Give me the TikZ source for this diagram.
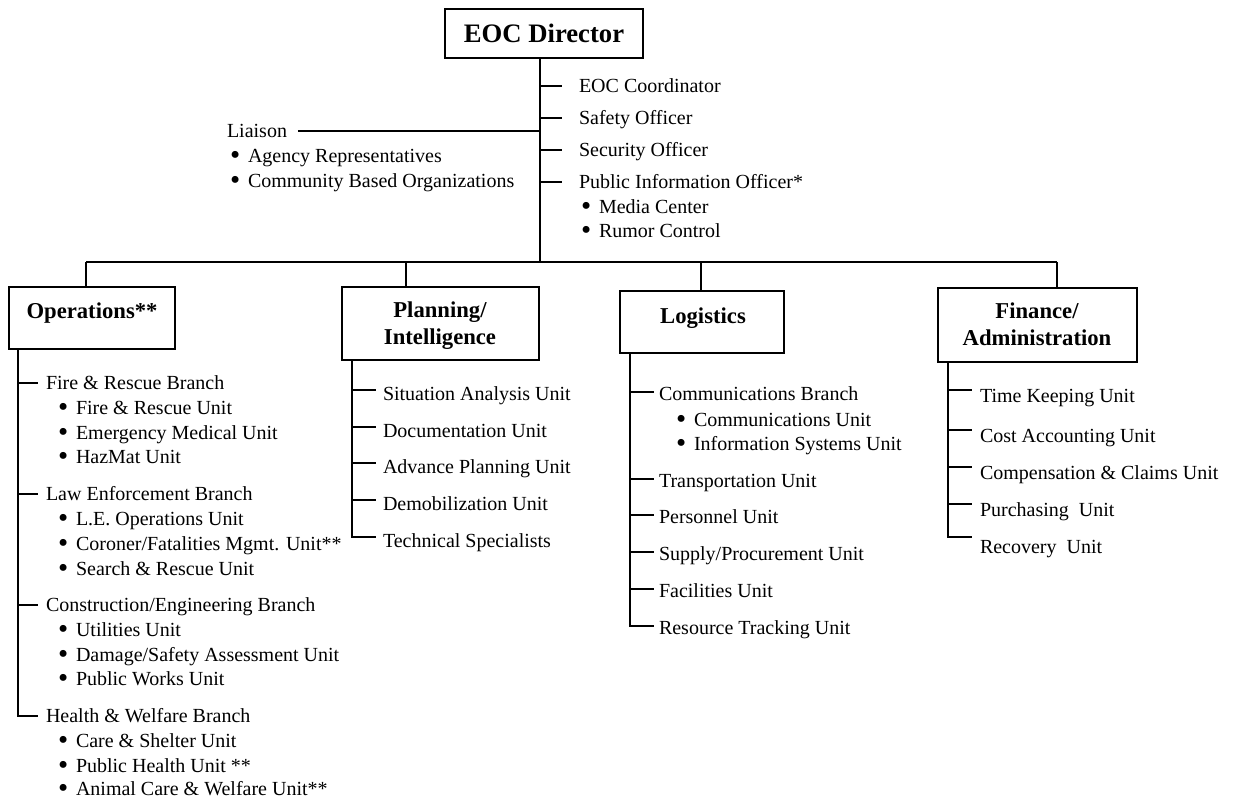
\documentclass[tikz,border=0pt]{standalone}
\usepackage{fontspec}
\setmainfont{Liberation Serif}
\newcommand\myitem[1]{\makebox[13.5pt][l]{\smash{\raisebox{-0.09em}{\scalebox{1.45}{\textbullet}}}}#1}
\begin{document}
\begin{tikzpicture}[x=0.75pt,y=-0.75pt,line width=1.5pt,
  every node/.style={inner sep=0pt,font=\fontsize{15}{18}\selectfont},
  lbl/.style={anchor=west,text height=9.9pt,text depth=0pt},
  head/.style={font=\fontsize{17}{20}\selectfont\bfseries,text height=11.2pt,text depth=0pt},
  box/.style={draw,line width=1.5pt,minimum width=#1*0.75pt},
  link/.style={line width=1.5pt}]
\useasboundingbox (0,0) rectangle (1234,802);

% ---------- Director ----------
\node[box=198,minimum height=49*0.75pt] (dir) at (544,33.5) {};
\node[font=\fontsize{20}{24}\selectfont\bfseries,text height=13.2pt,text depth=0pt] (dirt) at (544,34) {EOC Director};
\coordinate (trunk) at (540,58);
\coordinate (bus) at (540,262);
\draw[link] (trunk) -- (bus);

% staff
\node[lbl] (coord) at (578,86) {EOC Coordinator};
\node[lbl] (safe) at (578,118) {Safety Officer};
\node[lbl] (sec) at (578,150) {Security Officer};
\node[lbl] (pio) at (578,182) {Public Information Officer*};
\node[lbl] (pio1) at (580,207) {\myitem{Media Center}};
\node[lbl] (pio2) at (580,231) {\myitem{Rumor Control}};
\foreach \n in {coord,safe,sec,pio}{
  \draw[link] (trunk |- \n.west) -- ([xshift=-12pt]\n.west);
}
\node[lbl] (liaison) at (226,131) {Liaison};
\node[lbl] (lia1) at (229,156) {\myitem{Agency Representatives}};
\node[lbl] (lia2) at (229,181) {\myitem{Community Based Organizations}};
\draw[link] ([xshift=7.5pt]liaison.east) -- (trunk |- liaison.east);

% ---------- Section boxes ----------
\node[box=166,minimum height=62*0.75pt] (ops) at (92,318) {};
\node[head] (opst) at (92,311) {Operations**};
\node[box=197,minimum height=73*0.75pt] (plan) at (440.5,323.5) {};
\node[head] (plant1) at (440,310) {Planning/};
\node[head] (plant2) at (440,337) {Intelligence};
\node[box=164,minimum height=62*0.75pt] (log) at (702,322) {};
\node[head] (logt) at (703,316) {Logistics};
\node[box=199,minimum height=74*0.75pt] (fin) at (1037.5,325) {};
\node[head] (fint1) at (1037,311) {Finance/};
\node[head] (fint2) at (1037,338) {Administration};

\coordinate (busL) at (86,262);
\coordinate (busR) at (1057,262);
\draw[link] (busL) -- (busR);
\coordinate (dplan) at (406,262);
\coordinate (dlog) at (701,262);
\draw[link] (busL) -- (busL |- ops.north);
\draw[link] (dplan) -- (dplan |- plan.north);
\draw[link] (dlog) -- (dlog |- log.north);
\draw[link] (busR) -- (busR |- fin.north);

% ---------- Operations ----------
\coordinate (opsx) at (18,0);
\node[lbl] (o1) at (45,383) {Fire \& Rescue Branch};
\node[lbl] (o11) at (57,408) {\myitem{Fire \& Rescue Unit}};
\node[lbl] (o12) at (57,433) {\myitem{Emergency Medical Unit}};
\node[lbl] (o13) at (57,457) {\myitem{HazMat Unit}};
\node[lbl] (o2) at (45,494) {Law Enforcement Branch};
\node[lbl] (o21) at (57,519) {\myitem{L.E. Operations Unit}};
\node[lbl] (o22) at (57,544) {\myitem{Coroner/Fatalities Mgmt. Unit**}};
\node[lbl] (o23) at (57,569) {\myitem{Search \& Rescue Unit}};
\node[lbl] (o3) at (45,605) {Construction/Engineering Branch};
\node[lbl] (o31) at (57,630) {\myitem{Utilities Unit}};
\node[lbl] (o32) at (57,655) {\myitem{Damage/Safety Assessment Unit}};
\node[lbl] (o33) at (57,679) {\myitem{Public Works Unit}};
\node[lbl] (o4) at (45,716) {Health \& Welfare Branch};
\node[lbl] (o41) at (57,741) {\myitem{Care \& Shelter Unit}};
\node[lbl] (o42) at (57,766) {\myitem{Public Health Unit **}};
\node[lbl] (o43) at (57,789) {\myitem{Animal Care \& Welfare Unit**}};
\draw[link] (opsx |- ops.south) -- (opsx |- o4.west) -- ([xshift=-5.25pt]o4.west);
\foreach \n in {o1,o2,o3}{
  \draw[link] (opsx |- \n.west) -- ([xshift=-5.25pt]\n.west);
}

% ---------- Planning ----------
\coordinate (planx) at (352,0);
\node[lbl] (p1) at (382,394) {Situation Analysis Unit};
\node[lbl] (p2) at (382,431) {Documentation Unit};
\node[lbl] (p3) at (382,467) {Advance Planning Unit};
\node[lbl] (p4) at (382,504) {Demobilization Unit};
\node[lbl] (p5) at (382,541) {Technical Specialists};
\draw[link] (planx |- plan.south) -- ([yshift=3pt]planx |- p5.west) -- ([xshift=-4.5pt,yshift=3pt]p5.west);
\foreach \n in {p1,p2,p3,p4}{
  \draw[link] ([yshift=3pt]planx |- \n.west) -- ([xshift=-4.5pt,yshift=3pt]\n.west);
}

% ---------- Logistics ----------
\coordinate (logx) at (630,0);
\node[lbl] (l1) at (658,394) {Communications Branch};
\node[lbl] (l11) at (675,420) {\myitem{Communications Unit}};
\node[lbl] (l12) at (675,444) {\myitem{Information Systems Unit}};
\node[lbl] (l2) at (658,481) {Transportation Unit};
\node[lbl] (l3) at (658,517) {Personnel Unit};
\node[lbl] (l4) at (658,554) {Supply/Procurement Unit};
\node[lbl] (l5) at (658,591) {Facilities Unit};
\node[lbl] (l6) at (658,628) {Resource Tracking Unit};
\draw[link] (logx |- log.south) -- ([yshift=1.5pt]logx |- l6.west) -- ([xshift=-3pt,yshift=1.5pt]l6.west);
\foreach \n in {l1,l2,l3,l4,l5}{
  \draw[link] ([yshift=1.5pt]logx |- \n.west) -- ([xshift=-3pt,yshift=1.5pt]\n.west);
}

% ---------- Finance ----------
\coordinate (finx) at (948,0);
\node[lbl] (f1) at (979,396) {Time Keeping Unit};
\node[lbl] (f2) at (979,436) {Cost Accounting Unit};
\node[lbl] (f3) at (979,473) {Compensation \& Claims Unit};
\node[lbl] (f4) at (979,510) {Purchasing\ \ Unit};
\node[lbl] (f5) at (979,547) {Recovery\ \ Unit};
\draw[link] (finx |- fin.south) -- ([yshift=7.5pt]finx |- f5.west) -- ([xshift=-5.25pt,yshift=7.5pt]f5.west);
\foreach \n in {f1,f2,f3,f4}{
  \draw[link] ([yshift=4.5pt]finx |- \n.west) -- ([xshift=-5.25pt,yshift=4.5pt]\n.west);
}
\end{tikzpicture}
\end{document}
